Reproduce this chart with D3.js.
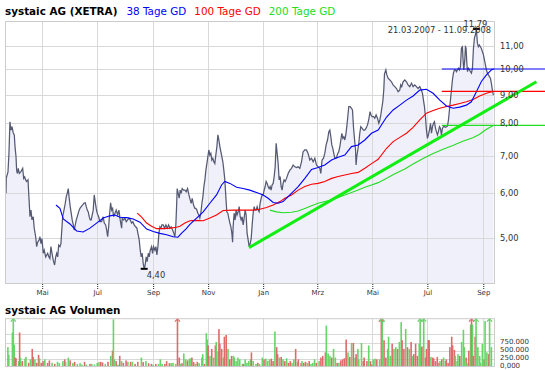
<!DOCTYPE html>
<html>
<head>
<meta charset="utf-8">
<script src="https://cdn.jsdelivr.net/npm/d3@7"></script>
<style>
body { margin: 0; background: #fff; }
svg { display: block; font-family: "DejaVu Sans", Verdana, sans-serif; }
</style>
</head>
<body>
<svg width="545" height="370"></svg>
<script>
// series start 21.03.2007, all x values are day offsets from it
const startDate = new Date(2007, 2, 21);

const priceDay = [0.9,1.2,3.1,4.2,5.3,6.4,7.5,9.0,10.1,10.9,12.0,12.7,13.4,14.5,15.6,17.5,19.4,20.5,21.6,22.7,23.8,25.3,26.4,27.5,28.6,29.7,31.1,32.2,33.8,34.9,36.0,37.5,38.6,39.7,40.8,42.2,43.3,44.9,47.1,48.5,49.6,50.7,52.2,53.3,54.8,56.0,57.1,58.2,59.3,60.7,61.8,62.6,63.7,65.2,66.6,67.7,68.8,69.9,71.0,72.1,73.2,74.3,75.5,76.6,77.7,78.8,79.9,81.4,82.9,84.3,85.9,87.3,88.8,89.9,91.0,92.1,93.2,94.3,95.4,96.5,97.6,98.7,99.8,100.9,102.0,103.6,105.0,
  106.9,108.7,109.8,111.4,112.5,113.6,114.7,115.8,116.9,118.0,119.1,120.2,121.7,123.1,124.7,126.1,127.5,129.1,129.7,131.3,132.7,134.2,135.7,137.2,138.6,140.2,141.6,143.0,144.6,146.0,147.5,148.6,149.7,150.8,151.9,153.0,154.1,155.2,156.3,157.4,158.6,159.7,160.8,162.3,163.4,164.5,166.0,167.1,168.2,169.3,170.4,171.5,172.6,173.7,175.2,176.7,178.2,179.6,181.2,182.6,184.0,185.6,187.0,188.1,189.2,190.0,190.7,191.8,192.9,194.0,195.1,196.2,197.8,199.2,200.7,202.2,203.7,205.1,206.2,207.3,208.8,210.3,
  211.4,212.5,213.6,214.7,215.8,216.9,218.1,219.2,220.3,221.4,222.5,223.6,224.7,225.8,226.9,228.0,229.1,230.2,231.3,232.4,233.5,234.7,235.8,236.9,238.0,239.1,240.2,241.3,242.4,243.5,244.6,245.7,246.8,247.9,249.1,250.2,251.3,252.1,252.7,253.8,254.9,256.0,257.1,258.3,259.4,260.5,261.6,262.7,263.8,264.9,266.0,267.1,268.2,269.4,270.5,271.6,272.7,273.8,274.9,276.0,277.1,278.2,279.3,280.4,281.5,282.6,283.8,284.9,286.0,287.1,288.2,289.3,290.4,291.5,292.6,293.7,294.8,295.9,297.1,298.2,299.3,300.4,301.5,302.6,303.7,304.8,305.9,307.0,308.1,309.2,310.4,311.9,
  313.7,315.6,317.4,319.2,321.1,323.0,324.7,326.6,328.5,330.3,332.2,334.0,335.8,337.7,339.6,341.4,343.3,345.1,346.9,348.8,349.9,351.3,352.9,354.3,355.8,357.3,358.8,359.9,361.0,362.1,363.2,364.3,365.4,366.5,367.6,368.7,369.8,371.0,372.1,373.2,374.3,375.4,376.5,377.6,378.7,379.8,380.9,382.4,383.9,385.0,386.1,387.2,388.4,389.0,389.8,390.9,392.0,393.1,394.2,395.6,397.2,398.6,400.1,401.6,403.0,404.5,405.6,406.7,408.3,409.7,411.2,412.7,414.2,415.3,416.4,417.5,418.6,419.7,420.5,
  422.0,423.1,424.5,426.4,428.2,430.0,431.9,433.8,435.6,437.4,438.5,439.6,441.1,443.0,444.9,446.6,448.5,450.4,452.2,454.0,455.9,457.7,459.6,461.4,462.6,463.7,464.8,465.9,467.0,468.1,469.2,470.3,471.5,472.6,473.7,474.8,475.9,477.0,478.1,479.2,480.3,481.4,482.5,483.6,484.8,485.9,487.0,488.1,489.2,490.3,491.4,492.5,493.6,494.7,495.8,496.9,498.0,499.2,500.3,501.4,502.5,503.6,504.7,505.8,506.9,507.6,508.4,509.5,510.2,510.9,511.7,512.5,513.6,514.7,515.8,516.9,518.0,519.1,520.2,521.3,522.4,523.5,524.6,525.7,526.8,527.9,529.0,530.2,531.3,532.4,533.5,534.6,535.7,536.8,537.9,539.0,540.1,541.2];
const priceClose = [6.00,6.39,6.55,7.08,8.05,7.78,7.89,7.69,7.63,7.27,6.98,6.60,6.51,6.65,6.51,6.56,6.65,6.38,6.42,6.34,6.30,6.34,5.88,5.45,5.60,5.38,5.45,5.20,5.02,4.82,4.91,4.95,5.02,4.88,4.98,4.69,4.75,4.62,4.69,4.62,4.59,4.82,4.66,4.56,4.47,4.62,4.69,4.62,4.85,4.82,4.88,5.12,5.45,5.60,5.76,5.92,6.00,6.12,5.88,5.68,5.53,5.38,5.27,5.16,5.27,5.38,5.45,5.56,5.64,5.68,5.72,5.76,5.77,5.68,5.60,5.56,5.45,5.38,5.38,5.49,5.60,5.96,5.80,5.64,5.53,5.45,5.34,
  5.34,5.45,5.31,5.27,5.16,5.02,5.23,5.53,5.77,5.60,5.64,5.45,5.53,5.60,5.49,5.60,5.38,5.20,5.42,5.38,5.42,5.34,5.38,5.42,5.38,5.31,5.34,5.27,5.23,5.20,5.06,4.95,4.75,4.62,4.69,4.50,4.40,4.47,4.62,4.53,4.69,4.62,4.75,4.82,4.69,4.82,4.75,4.82,4.66,4.82,5.09,5.23,5.20,5.27,5.27,5.20,5.27,5.20,5.27,5.20,5.23,5.16,5.09,5.02,5.27,5.68,6.12,6.00,5.88,6.08,6.00,6.12,6.08,6.08,6.04,6.12,5.96,5.84,5.76,5.88,5.72,5.64,
  5.64,5.60,5.53,5.49,5.42,5.53,5.76,5.92,6.17,6.34,6.60,6.78,6.98,7.17,7.02,7.07,6.88,6.93,6.83,6.78,7.02,7.27,7.63,7.47,7.27,7.12,6.98,6.83,6.60,6.34,5.92,5.56,5.53,5.42,5.31,5.23,5.09,4.91,5.23,5.53,5.38,5.60,5.49,5.56,5.68,5.45,5.38,5.45,5.27,5.42,5.60,5.49,5.09,4.95,4.82,4.88,4.98,5.27,5.53,5.68,5.60,5.60,5.68,5.60,5.56,5.76,5.88,5.96,5.96,6.08,6.17,6.30,6.25,6.17,6.12,6.17,6.08,6.21,6.25,6.43,6.69,7.37,7.07,6.78,6.34,6.43,6.17,6.08,6.25,6.34,6.30,6.38,
  6.51,6.60,6.65,6.74,6.69,6.67,6.69,6.65,6.83,7.12,7.17,7.17,7.07,6.88,6.93,6.83,6.93,6.74,6.69,6.65,6.51,6.88,6.93,7.07,7.32,7.47,7.73,7.78,7.57,7.32,7.22,7.07,6.93,6.93,6.98,7.07,7.12,7.27,7.47,7.68,7.52,7.57,7.47,7.63,7.89,8.22,8.57,8.57,8.51,8.45,7.89,7.52,7.17,6.74,6.98,7.17,7.37,7.68,7.89,7.84,7.78,7.78,7.84,7.94,8.11,8.39,8.28,8.22,8.22,8.17,8.28,8.17,8.00,8.11,8.28,8.51,8.74,9.17,9.80,
  9.96,9.76,9.63,9.56,9.49,9.37,9.30,9.23,9.11,9.17,9.37,9.30,9.49,9.56,9.49,9.37,9.30,9.43,9.30,9.37,9.30,9.23,9.30,9.17,9.05,8.80,8.57,8.22,7.78,7.52,7.63,7.78,8.00,7.68,7.89,8.00,8.05,7.84,7.73,7.63,7.73,7.89,7.84,7.63,7.84,7.89,7.89,7.87,7.89,7.91,8.11,8.45,8.80,9.17,9.56,9.83,9.96,9.96,9.89,9.96,10.03,9.96,10.10,10.90,10.95,10.38,9.96,10.38,10.95,10.90,10.30,9.89,10.03,9.96,9.89,9.83,10.03,10.88,11.35,11.51,11.79,11.12,10.96,11.04,10.96,10.88,10.74,10.60,10.38,10.17,9.96,9.83,9.76,9.69,9.63,9.43,9.17,8.98];

const gd38Day = [56.3,60.7,64.4,71.8,79.2,86.5,94.0,101.4,108.7,116.1,121.7,127.2,134.6,141.9,149.4,156.8,164.1,171.5,178.9,186.3,191.5,195.9,200.3,204.8,212.2,219.5,226.9,234.3,239.9,243.5,249.1,256.5,263.8,271.2,278.7,286.0,291.5,297.1,302.6,308.1,315.6,324.8,332.2,339.6,346.9,354.3,361.8,369.1,376.5,383.9,391.3,398.7,406.1,413.5,422.8,430.1,437.5,444.9,452.2,459.6,467.0,474.4,481.8,489.2,496.6,503.9,511.3,516.8,522.4,527.9,533.5,539.0,541.6];
const gd38 = [5.72,5.64,5.40,5.29,5.14,5.12,5.20,5.31,5.42,5.47,5.49,5.44,5.43,5.40,5.33,5.18,5.13,5.09,5.06,5.02,5.01,5.10,5.18,5.28,5.42,5.56,5.76,5.96,6.21,6.30,6.25,6.15,6.12,6.08,6.02,5.96,5.88,5.78,5.76,5.80,5.96,6.17,6.38,6.62,6.67,6.74,6.88,6.96,7.02,7.27,7.32,7.47,7.68,7.78,8.21,8.45,8.62,8.80,8.95,9.17,9.20,9.05,8.80,8.59,8.51,8.55,8.62,8.74,9.11,9.50,9.76,9.96,10.00];

const gd100Day = [146.4,151.2,156.8,162.3,167.9,175.2,182.6,190.0,193.7,199.2,204.8,210.3,219.5,226.9,234.3,241.6,252.7,263.8,274.9,282.3,289.7,297.1,304.5,310.1,317.4,324.8,332.2,339.6,346.9,354.3,361.8,369.1,376.5,383.9,391.3,398.7,406.1,413.5,422.8,430.1,437.5,444.9,452.2,459.6,467.0,474.4,481.8,489.2,496.6,503.9,511.3,518.7,526.0,533.5,540.8];
const gd100 = [5.53,5.44,5.31,5.24,5.19,5.19,5.20,5.22,5.24,5.31,5.36,5.37,5.36,5.42,5.49,5.59,5.60,5.60,5.60,5.62,5.66,5.72,5.80,5.88,5.96,6.08,6.17,6.23,6.25,6.30,6.38,6.43,6.47,6.51,6.54,6.65,6.78,6.90,7.22,7.42,7.55,7.68,7.87,8.11,8.34,8.43,8.51,8.57,8.62,8.68,8.74,8.82,8.95,9.05,9.12];

const gd200Day = [293.4,300.8,308.1,317.4,324.8,332.2,339.6,346.9,354.3,361.8,369.1,376.5,383.9,391.3,398.7,406.1,413.5,420.9,432.0,443.0,452.2,463.3,474.4,485.5,496.2,507.3,518.4,526.0,532.7,541.0];
const gd200 = [5.60,5.56,5.54,5.55,5.58,5.64,5.70,5.76,5.80,5.84,5.90,5.96,6.02,6.08,6.15,6.21,6.27,6.36,6.50,6.63,6.77,6.92,7.07,7.19,7.30,7.43,7.54,7.65,7.79,7.93];

// drawn trend line and last average levels
const trendDay = [270.3, 588.9];
const trendValue = [4.80, 9.49];
const levelDay = [484, 600];
const levelValue = [10.00, 9.12, 7.93];

const volDay = [3,4,8,9,10,11,12,15,16,17,19,22,23,26,28,30,31,33,35,37,38,40,42,44,47,49,52,55,58,60,64,66,67,70,72,75,77,80,83,85,88,90,94,96,99,102,104,106,108,111,114,117,119,120,121,123,125,127,129,131,134,136,139,141,144,147,151,153,156,159,162,164,167,170,172,174,177,179,182,184,186,189,191,193,194,196,198,200,202,204,205,207,209,211,213,215,218,219,221,223,224,225,227,229,231,233,234,236,237,238,240,242,243,245,247,249,251,253,254,256,258,260,263,264,266,268,270,272,273,275,278,280,282,285,287,289,291,293,295,297,299,301,302,304,306,308,310,312,314,316,318,320,322,324,325,328,329,331,333,335,337,339,341,343,345,348,350,352,355,356,358,360,362,364,366,368,370,372,374,376,378,380,382,384,386,388,389,391,392,395,397,398,401,403,405,406,408,410,412,415,417,418,420,422,424,425,427,429,431,433,435,437,439,440,442,444,446,448,450,452,453,455,457,459,460,461,462,464,466,467,469,470,472,474,475,477,479,481,482,484,486,488,489,491,493,495,496,498,499,501,502,504,506,508,509,511,512,514,516,517,518,519,521,522,524,526,527,529,531,532,534,536,537,539];
const volume = [610000,375000,1060000,1800000,685000,290000,268000,182000,1060000,290000,182000,257000,310000,128000,235000,556000,310000,235000,128000,375000,268000,128000,182000,235000,128000,203000,128000,96000,160000,118000,182000,235000,160000,290000,203000,118000,160000,96000,118000,75000,160000,75000,96000,96000,75000,118000,150000,160000,139000,96000,160000,342000,503000,1466000,235000,182000,75000,342000,182000,128000,203000,160000,160000,160000,96000,160000,290000,150000,182000,118000,96000,75000,96000,96000,235000,96000,96000,182000,118000,118000,128000,96000,1800000,290000,96000,118000,417000,235000,203000,235000,268000,290000,150000,96000,160000,118000,290000,396000,96000,1038000,845000,663000,342000,556000,290000,663000,770000,481000,1166000,717000,556000,290000,931000,984000,556000,235000,342000,342000,290000,182000,290000,235000,96000,96000,235000,128000,182000,235000,449000,182000,96000,128000,96000,290000,235000,257000,182000,235000,257000,182000,1091000,610000,396000,290000,310000,235000,182000,268000,128000,182000,128000,235000,556000,160000,235000,118000,182000,128000,160000,118000,182000,96000,128000,235000,128000,182000,290000,342000,449000,1273000,417000,342000,290000,556000,290000,128000,128000,203000,235000,268000,845000,449000,310000,738000,738000,290000,396000,556000,235000,738000,182000,290000,182000,663000,182000,75000,235000,257000,235000,235000,1800000,1800000,824000,290000,556000,931000,342000,717000,556000,610000,556000,770000,1380000,824000,556000,1166000,610000,556000,770000,342000,396000,717000,342000,717000,1800000,610000,631000,1800000,290000,556000,824000,824000,310000,290000,268000,182000,310000,128000,182000,235000,290000,182000,235000,128000,610000,931000,663000,524000,342000,182000,396000,342000,770000,1145000,610000,290000,128000,503000,1305000,1800000,1305000,342000,931000,1800000,610000,342000,128000,717000,235000,1412000,449000,396000,1800000,610000];
const volUp = "gggggrrgrgrggrgrrgrrgrrgrrgrgggrggrgrgggrgrggggrrgrgrggrgrgrrgrgrrgrgrrgrgggrrrgggrrgrggrggrrgrgggrggrgrgrggrrrgrrgrrggggggrggggrggrggrgggrrgrrgrgrgrrggrgrrgrrgrgggrgrrrgggrggrgrrrrgrgrgrgggrrrgrrggrgrgrrgggrggrggrrgrgrgrrrgggrgrrrrgrrrrrgrggrrrrrrgggrgggrgrgrgrrgggggrggrggrrggggrrgrgrggrgrgrrrrrgrg";

const priceTicks = [5, 6, 7, 8, 9, 10, 11];
const volTicks = [0, 250000, 500000, 750000];
const volTickLabels = ['0,000', '250.000', '500.000', '750.000'];
const volGrid = [250000, 500000, 750000, 1000000];
const monthNames = ['Jan', 'Feb', 'Mrz', 'Apr', 'Mai', 'Jun', 'Jul', 'Aug', 'Sep', 'Okt', 'Nov', 'Dez'];

const svg = d3.select('svg');
const main = { left: 5, right: 495, top: 21, bottom: 284 };
const vol = { top: 318.2, bottom: 367 };

const toDate = d => new Date(startDate.getTime() + d * 864e5);
const comma = v => v.toFixed(2).replace('.', ',');

const xScale = d3.scaleTime()
    .domain([toDate(-0.2), toDate(543)])
    .range([main.left, main.right]);
const yScale = d3.scaleLog()
    .domain([4.134, 12.18])
    .range([main.bottom, main.top]);
const vScale = d3.scaleLinear()
    .domain([0, 1500000])
    .range([vol.bottom, vol.top]);

const months = xScale.ticks(d3.timeMonth.every(2));

const zip = (days, vals) => days.map((d, i) => ({ date: toDate(d), value: vals[i] }));
const price = zip(priceDay, priceClose);

const defs = svg.append('defs');
defs.append('clipPath').attr('id', 'clipMain')
    .append('rect').attr('x', main.left).attr('y', main.top)
    .attr('width', main.right - main.left).attr('height', main.bottom - main.top);
defs.append('clipPath').attr('id', 'clipVol')
    .append('rect').attr('x', main.left).attr('y', vol.top)
    .attr('width', main.right - main.left).attr('height', vol.bottom - vol.top);

// ---- price panel ----
svg.append('rect')
    .attr('x', main.left).attr('y', main.top)
    .attr('width', main.right - main.left).attr('height', main.bottom - main.top)
    .attr('fill', '#fff');

const g = svg.append('g').attr('clip-path', 'url(#clipMain)');

g.append('path')
    .datum(price)
    .attr('fill', '#f0f0fb')
    .attr('d', d3.area().x(d => xScale(d.date)).y0(main.bottom).y1(d => yScale(d.value)));

g.selectAll('.vgrid').data(months).enter().append('line')
    .attr('x1', d => Math.round(xScale(d)) + 0.5).attr('x2', d => Math.round(xScale(d)) + 0.5)
    .attr('y1', main.top).attr('y2', main.bottom)
    .attr('stroke', '#d9d9d9');
g.selectAll('.hgrid').data(priceTicks).enter().append('line')
    .attr('x1', main.left).attr('x2', main.right)
    .attr('y1', d => Math.round(yScale(d)) + 0.5).attr('y2', d => Math.round(yScale(d)) + 0.5)
    .attr('stroke', '#d9d9d9');

const line = d3.line().x(d => xScale(d.date)).y(d => yScale(d.value));

g.append('path').datum(price)
    .attr('fill', 'none').attr('stroke', '#555a72').attr('stroke-width', 1.25)
    .attr('d', line);

const averages = [
    { data: zip(gd200Day, gd200), color: '#22dd22' },
    { data: zip(gd100Day, gd100), color: '#ff0000' },
    { data: zip(gd38Day, gd38), color: '#0000ff' }
];
averages.forEach(a => {
    g.append('path').datum(a.data)
        .attr('fill', 'none').attr('stroke', a.color).attr('stroke-width', 1.1)
        .attr('d', line);
});

svg.append('rect')
    .attr('x', main.left + 0.5).attr('y', main.top + 0.5)
    .attr('width', main.right - main.left - 1).attr('height', main.bottom - main.top - 1)
    .attr('fill', 'none').attr('stroke', '#cccccc');

// current levels of the averages
const levelColors = ['#0000ff', '#ff0000', '#22dd22'];
svg.selectAll('.level').data(levelValue).enter().append('line')
    .attr('x1', xScale(toDate(levelDay[0]))).attr('x2', xScale(toDate(levelDay[1])))
    .attr('y1', d => yScale(d)).attr('y2', d => yScale(d))
    .attr('stroke', (d, i) => levelColors[i]).attr('stroke-width', 1.2);

// trend line
svg.append('line')
    .attr('x1', xScale(toDate(trendDay[0]))).attr('y1', yScale(trendValue[0]))
    .attr('x2', xScale(toDate(trendDay[1]))).attr('y2', yScale(trendValue[1]))
    .attr('stroke', '#11ee11').attr('stroke-width', 3);

// min / max markers
const minP = price.reduce((a, b) => (b.value < a.value ? b : a));
const maxP = price.reduce((a, b) => (b.value > a.value ? b : a));
[minP, maxP].forEach(p => {
    svg.append('line')
        .attr('x1', xScale(p.date) - 3.5).attr('x2', xScale(p.date) + 3.5)
        .attr('y1', yScale(p.value)).attr('y2', yScale(p.value))
        .attr('stroke', '#000').attr('stroke-width', 2);
});
svg.append('text')
    .attr('x', xScale(minP.date) + 2.5).attr('y', yScale(minP.value) + 9)
    .attr('font-size', '8.3px').attr('fill', '#333')
    .text(comma(minP.value));
svg.append('text')
    .attr('x', xScale(maxP.date) - 1).attr('y', yScale(maxP.value) - 2)
    .attr('text-anchor', 'middle')
    .attr('font-size', '8.3px').attr('fill', '#333')
    .text(comma(maxP.value));

svg.append('text')
    .attr('x', 491).attr('y', 33)
    .attr('text-anchor', 'end')
    .attr('font-size', '8.3px').attr('fill', '#333')
    .text('21.03.2007 - 11.09.2008');

// right price axis
const yAxisG = svg.append('g')
    .attr('transform', 'translate(' + main.right + ',0)')
    .call(d3.axisRight(yScale).tickValues(priceTicks).tickSize(0).tickPadding(5).tickFormat(comma));
yAxisG.select('.domain').remove();
yAxisG.selectAll('text').attr('font-family', 'DejaVu Sans').attr('font-size', '8.3px').attr('fill', '#333');

// month axis
const xAxisG = svg.append('g')
    .attr('transform', 'translate(0,' + main.bottom + ')')
    .call(d3.axisBottom(xScale).tickValues(months).tickSize(5).tickPadding(1.5)
        .tickFormat(d => monthNames[d.getMonth()]));
xAxisG.select('.domain').remove();
xAxisG.selectAll('line').attr('stroke', '#222').attr('stroke-dasharray', '1,1');
xAxisG.selectAll('text').attr('font-family', 'DejaVu Sans').attr('font-size', '7px').attr('fill', '#333');

// titles
const title = svg.append('text').attr('x', 5).attr('y', 15).attr('font-size', '10.4px');
title.append('tspan').attr('font-weight', 'bold').attr('fill', '#000').text('systaic AG (XETRA)');
title.append('tspan').attr('fill', '#0000ff').attr('dx', 9).text('38 Tage GD');
title.append('tspan').attr('fill', '#ff0000').attr('dx', 8).text('100 Tage GD');
title.append('tspan').attr('fill', '#22dd22').attr('dx', 8).text('200 Tage GD');

svg.append('text')
    .attr('x', 5).attr('y', 313.5)
    .attr('font-size', '10.4px').attr('font-weight', 'bold')
    .text('systaic AG Volumen');

// ---- volume panel ----
svg.append('rect')
    .attr('x', main.left).attr('y', vol.top)
    .attr('width', main.right - main.left).attr('height', vol.bottom - vol.top)
    .attr('fill', '#fff');

const vg = svg.append('g').attr('clip-path', 'url(#clipVol)');
vg.selectAll('.vvgrid').data(months).enter().append('line')
    .attr('x1', d => Math.round(xScale(d)) + 0.5).attr('x2', d => Math.round(xScale(d)) + 0.5)
    .attr('y1', vol.top).attr('y2', vol.bottom)
    .attr('stroke', '#d9d9d9');
vg.selectAll('.vhgrid').data(volGrid).enter().append('line')
    .attr('x1', main.left).attr('x2', main.right)
    .attr('y1', d => Math.round(vScale(d)) + 0.5).attr('y2', d => Math.round(vScale(d)) + 0.5)
    .attr('stroke', '#d9d9d9');

const bars = volDay.map((d, i) => ({ date: toDate(d), value: volume[i], up: volUp[i] === 'g' }));
const barColor = d => (d.up ? '#66d466' : '#de6b6b');

vg.selectAll('.bar').data(bars).enter().append('rect')
    .attr('x', d => xScale(d.date) - 0.8)
    .attr('width', 1.6)
    .attr('y', d => vScale(Math.min(d.value, 1500000)))
    .attr('height', d => vol.bottom - vScale(Math.min(d.value, 1500000)))
    .attr('fill', barColor);

// arrows for bars above the scale
svg.selectAll('.arrow').data(bars.filter(d => d.value > 1500000)).enter().append('path')
    .attr('d', d => {
        const cx = xScale(d.date);
        return 'M' + (cx - 2.5) + ',' + (vol.top + 3.5) + 'L' + cx + ',' + (vol.top + 0.5) + 'L' + (cx + 2.5) + ',' + (vol.top + 3.5);
    })
    .attr('fill', 'none').attr('stroke', barColor).attr('stroke-width', 1.2);

svg.append('rect')
    .attr('x', main.left + 0.5).attr('y', vol.top + 0.5)
    .attr('width', main.right - main.left - 1).attr('height', vol.bottom - vol.top - 1)
    .attr('fill', 'none').attr('stroke', '#cccccc');

const vAxisG = svg.append('g')
    .attr('transform', 'translate(' + main.right + ',-1.5)')
    .call(d3.axisRight(vScale).tickValues(volTicks).tickSize(0).tickPadding(5)
        .tickFormat((d, i) => volTickLabels[i]));
vAxisG.select('.domain').remove();
vAxisG.selectAll('text').attr('font-family', 'DejaVu Sans').attr('font-size', '7px').attr('fill', '#333');
</script>
</body>
</html>
